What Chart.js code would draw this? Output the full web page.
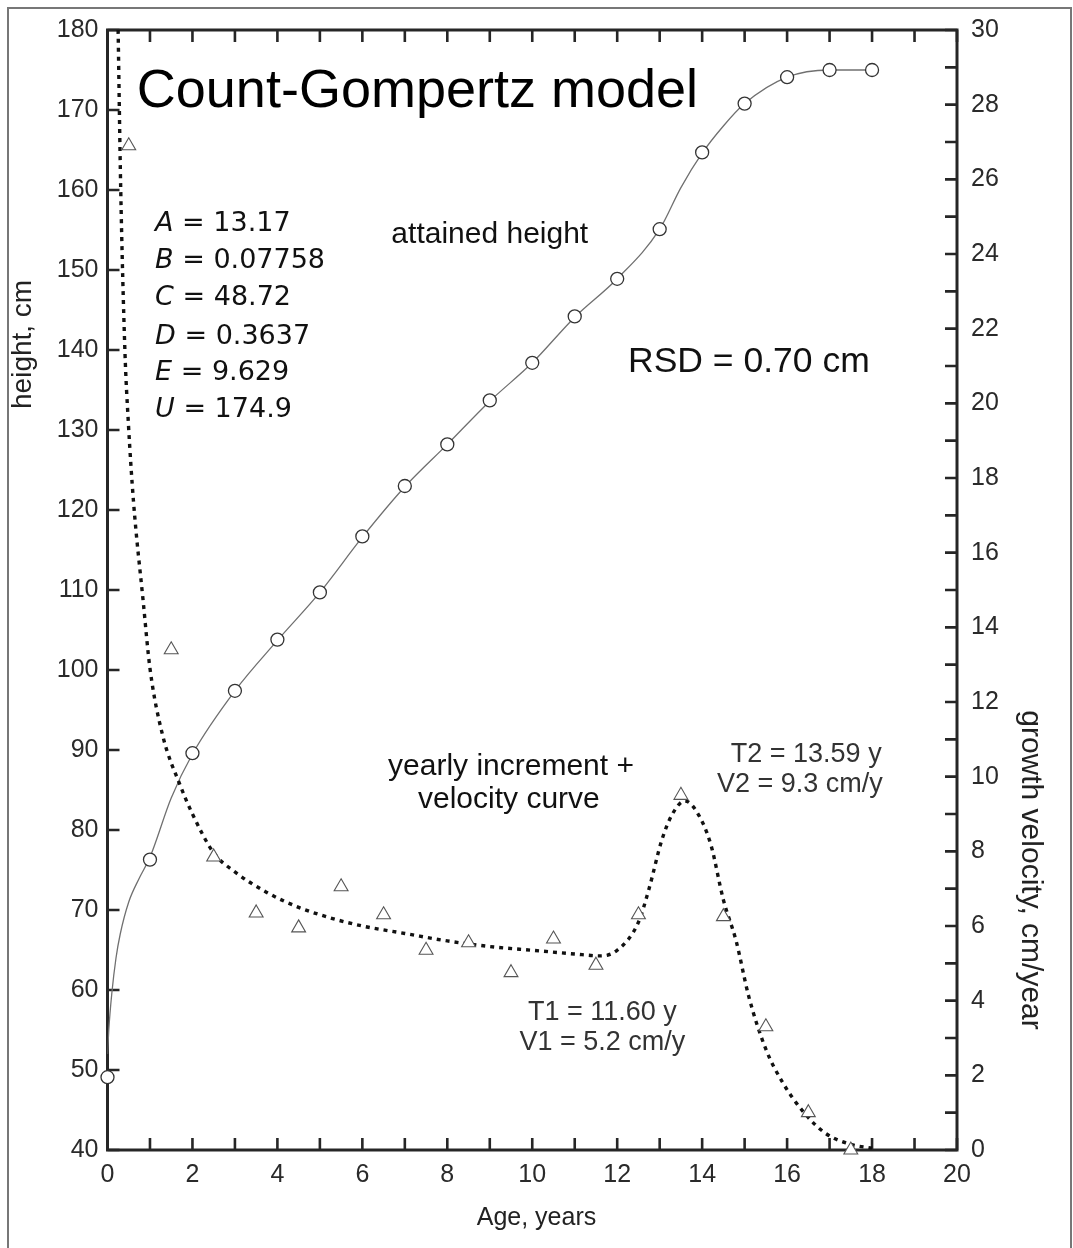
<!DOCTYPE html>
<html>
<head>
<meta charset="utf-8">
<script src="https://cdn.jsdelivr.net/npm/chart.js@4.4.1/dist/chart.umd.min.js"></script>
<style>
  html, body { margin: 0; padding: 0; background: #fff; }
  #wrap { position: relative; width: 1073px; height: 1248px; overflow: hidden; }
  #frame { position: absolute; left: 7px; top: 7px; width: 1065px; height: 1260px; border: 2px solid #777; box-sizing: border-box; }
  #box { position: absolute; left: 0; top: 0; width: 1073px; height: 1248px; }
</style>
</head>
<body>
<div id="wrap">
  <div id="frame"></div>
  <div id="box"><canvas id="c"></canvas></div>
</div>
<script>
// ---- data ----
const ages = [0,1,2,3,4,5,6,7,8,9,10,11,12,13,14,15,16,17,18];
const heights = [49.1,76.3,89.6,97.4,103.8,109.7,116.7,123.0,128.2,133.7,138.4,144.2,148.9,155.1,164.7,170.8,174.1,175.0,175.0];

const incrementAges = [0.5,1.5,2.5,3.5,4.5,5.5,6.5,7.5,8.5,9.5,10.5,11.5,12.5,13.5,14.5,15.5,16.5,17.5];
const increments = [26.9,13.4,7.85,6.35,5.95,7.05,6.3,5.35,5.55,4.75,5.65,4.95,6.3,9.5,6.25,3.3,1.0,0.0];

const fitAges = [0,0.03,0.1,0.2,0.3,0.5,0.75,1,1.5,2,3,4,5,6,7,8,9,10,11,12,13,13.5,14,14.5,15,16,17,18];
const fitHeights = [52,55,59.5,64,67,71,74,76.6,84,89.5,97.4,103.7,109.7,116.6,122.9,128.2,133.6,138.4,144.1,148.9,155.1,160.3,164.6,168.0,170.8,174.1,175.0,175.0];

const velocityAges = [0.25,0.31,0.41,0.49,0.61,0.84,1.0,1.3,1.7,2.0,2.5,3.0,3.75,4.5,5.3,6.0,7.0,8.0,9.0,10.0,11.0,11.6,12.0,12.5,12.75,13.05,13.3,13.59,13.85,14.2,14.5,14.8,15.1,15.5,15.9,16.4,16.9,17.5,18.0];
const velocities = [30,25.8,21.4,19.5,17.4,14.7,12.9,11.1,9.8,9.0,7.96,7.45,6.9,6.5,6.2,6.0,5.8,5.6,5.45,5.35,5.25,5.2,5.35,6.1,7.0,8.3,9.0,9.35,9.1,8.2,6.7,5.6,4.1,2.7,1.8,1.0,0.45,0.15,0.05];

const xTickValues = [0,2,4,6,8,10,12,14,16,18,20];
const heightTicks = [40,50,60,70,80,90,100,110,120,130,140,150,160,170,180];
const velocityTickLabels = [0,2,4,6,8,10,12,14,16,18,20,22,24,26,28,30];

const params = [['A',' = 13.17'],['B',' = 0.07758'],['C',' = 48.72'],['D',' = 0.3637'],['E',' = 9.629'],['U',' = 174.9']];

// ---- drawing ----
const SANS = '"Liberation Sans", Arial, sans-serif';
const pts = (xs, ys) => xs.map((x, i) => ({x, y: ys[i]}));

const axesPlugin = {
  id: 'axesFrame',
  beforeDatasetsDraw(chart) {
    const {ctx, chartArea: a, scales} = chart;
    ctx.save();
    ctx.strokeStyle = '#262626';
    ctx.lineWidth = 2.6;
    ctx.lineCap = 'butt';
    const tl = 12;
    ctx.beginPath();
    scales.x.ticks.forEach(t => {
      const px = scales.x.getPixelForValue(t.value);
      ctx.moveTo(px, a.bottom); ctx.lineTo(px, a.bottom - tl);
      ctx.moveTo(px, a.top); ctx.lineTo(px, a.top + tl);
    });
    scales.y.ticks.forEach(t => {
      const py = scales.y.getPixelForValue(t.value);
      ctx.moveTo(a.left, py); ctx.lineTo(a.left + tl, py);
    });
    scales.y2.ticks.forEach(t => {
      const py = scales.y2.getPixelForValue(t.value);
      ctx.moveTo(a.right, py); ctx.lineTo(a.right - tl, py);
    });
    ctx.stroke();
    ctx.lineWidth = 3;
    ctx.strokeRect(a.left, a.top, a.right - a.left, a.bottom - a.top);
    ctx.restore();
  },
  afterDraw(chart) {
    const {ctx, chartArea: a, scales} = chart;
    const X = v => scales.x.getPixelForValue(v);
    const Y = v => scales.y.getPixelForValue(v);
    ctx.save();
    ctx.textBaseline = 'alphabetic';
    const txt = (s, x, y, font, color, align) => {
      ctx.font = font; ctx.fillStyle = color; ctx.textAlign = align || 'center';
      ctx.fillText(s, x, y);
    };
    txt('Count-Gompertz model', X(0.69), Y(170.4), '54px ' + SANS, '#000', 'left');
    // parameters
    const pY = [154.85,150.2,145.6,140.8,136.2,131.6];
    params.forEach((p, i) => {
      const x0 = X(1.12), y0 = Y(pY[i]);
      ctx.textAlign = 'left'; ctx.fillStyle = '#111';
      ctx.font = 'italic 27px "DejaVu Sans", sans-serif';
      ctx.fillText(p[0], x0, y0);
      const w = ctx.measureText(p[0]).width;
      ctx.font = '27px "DejaVu Sans", sans-serif';
      ctx.fillText(p[1], x0 + w, y0);
    });
    txt('attained height', X(9.0), Y(153.35), '30px ' + SANS, '#111');
    txt('RSD = 0.70 cm', X(15.1), Y(137.3), '35.5px ' + SANS, '#111');
    txt('yearly increment +', X(9.5), Y(86.9), '30px ' + SANS, '#111');
    txt('velocity curve', X(9.45), Y(82.8), '30px ' + SANS, '#111');
    txt('T2 = 13.59 y', X(16.45), Y(88.5), '27px ' + SANS, '#333');
    txt('V2 = 9.3 cm/y', X(16.3), Y(84.8), '27px ' + SANS, '#333');
    txt('T1 = 11.60 y', X(11.65), Y(56.3), '27px ' + SANS, '#333');
    txt('V1 = 5.2 cm/y', X(11.65), Y(52.5), '27px ' + SANS, '#333');
    // axis titles
    ctx.textBaseline = 'middle';
    txt('Age, years', X(10.1), a.bottom + 68, '25px ' + SANS, '#222');
    ctx.save();
    ctx.translate(a.left - 84, Y(140.7));
    ctx.rotate(-Math.PI / 2);
    txt('height, cm', 0, 0, '28px ' + SANS, '#222');
    ctx.restore();
    ctx.save();
    ctx.translate(a.right + 73, scales.y2.getPixelForValue(7.5));
    ctx.rotate(Math.PI / 2);
    txt('growth velocity, cm/year', 0, 0, '30px ' + SANS, '#222');
    ctx.restore();
    ctx.restore();
  }
};

new Chart(document.getElementById('c'), {
  type: 'line',
  data: {
    datasets: [
      { label: 'fit', data: pts(fitAges, fitHeights), yAxisID: 'y', borderColor: '#707070', borderWidth: 1.3,
        pointRadius: 0, cubicInterpolationMode: 'monotone', fill: false, order: 4 },
      { label: 'velocity', data: pts(velocityAges, velocities), yAxisID: 'y2', borderColor: '#111', borderWidth: 3.4,
        borderDash: [4, 5], pointRadius: 0, cubicInterpolationMode: 'monotone', fill: false, order: 3 },
      { label: 'height', data: pts(ages, heights), yAxisID: 'y', showLine: false, pointStyle: 'circle',
        pointRadius: 6.5, pointBackgroundColor: '#fff', pointBorderColor: '#333', pointBorderWidth: 1.3, clip: false, order: 2 },
      { label: 'increment', data: pts(incrementAges, increments), yAxisID: 'y2', showLine: false, pointStyle: 'triangle',
        pointRadius: 8, pointBackgroundColor: '#fff', pointBorderColor: '#555', pointBorderWidth: 1.1, clip: false, order: 1 }
    ]
  },
  options: {
    responsive: true, maintainAspectRatio: false, animation: false,
    layout: { padding: { top: 30, left: 0, right: 0, bottom: 0 } },
    plugins: { legend: { display: false }, tooltip: { enabled: false } },
    elements: { line: { borderCapStyle: 'butt' } },
    scales: {
      x: { type: 'linear', position: 'bottom', min: 0, max: 20,
        grid: { display: false, drawTicks: false }, border: { display: false },
        ticks: { stepSize: 1, autoSkip: false, maxRotation: 0, padding: 10, color: '#2a2a2a',
          font: { family: SANS, size: 25 },
          callback: v => xTickValues.includes(v) ? String(v) : '' },
        afterFit: s => { s.height = 98; } },
      y: { type: 'linear', position: 'left', min: 40, max: 180,
        grid: { display: false, drawTicks: false }, border: { display: false },
        ticks: { stepSize: 10, autoSkip: false, padding: 9, color: '#2a2a2a',
          font: { family: SANS, size: 25 },
          callback: v => heightTicks.includes(v) ? String(v) : '' },
        afterFit: s => { s.width = 107.5; } },
      y2: { type: 'linear', position: 'right', min: 0, max: 30,
        grid: { display: false, drawTicks: false }, border: { display: false },
        ticks: { stepSize: 1, autoSkip: false, padding: 14, color: '#2a2a2a',
          font: { family: SANS, size: 25 },
          callback: v => velocityTickLabels.includes(v) ? String(v) : '' },
        afterFit: s => { s.width = 116; } }
    }
  },
  plugins: [axesPlugin]
});
</script>
</body>
</html>
